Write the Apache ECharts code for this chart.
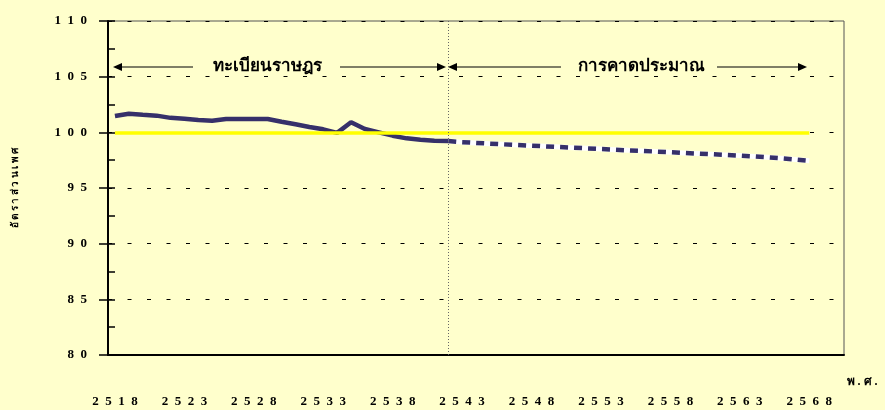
<!DOCTYPE html>
<html>
<head>
<meta charset="utf-8">
<script src="https://cdn.jsdelivr.net/npm/echarts@6/dist/echarts.min.js"></script>
<style>
  html, body { margin: 0; padding: 0; background: #FFFFCC; }
  #main { width: 885px; height: 410px; }
</style>
</head>
<body>
<div id="main"></div>
<script>
// ปี พ.ศ. (category axis)
var years = ['2518','2519','2520','2521','2522','2523','2524','2525','2526','2527',
             '2528','2529','2530','2531','2532','2533','2534','2535','2536','2537',
             '2538','2539','2540','2541','2542','2543','2544','2545','2546','2547',
             '2548','2549','2550','2551','2552','2553','2554','2555','2556','2557',
             '2558','2559','2560','2561','2562','2563','2564','2565','2566','2567',
             '2568','2569','2570'];

// ทะเบียนราษฎร 2518-2542
var registered = [101.46, 101.67, 101.58, 101.50, 101.30, 101.22, 101.10, 101.04, 101.20, 101.20,
                  101.20, 101.20, 100.95, 100.72, 100.48, 100.27, 99.95, 100.90, 100.30, 100.00,
                  99.70, 99.46, 99.34, 99.25, 99.22];

// การคาดประมาณ 2542-2568
var projected = [99.22, 99.12, 99.05, 98.98, 98.92, 98.86, 98.80, 98.74, 98.68, 98.62,
                 98.56, 98.50, 98.44, 98.38, 98.33, 98.27, 98.21, 98.15, 98.09, 98.03,
                 97.97, 97.91, 97.84, 97.76, 97.67, 97.56, 97.44];

var refValue = 100;
var yTicks = { min: 80, max: 110, step: 5 };

function pad(values, startYear) {
    var out = [];
    var start = years.indexOf(startYear);
    for (var i = 0; i < years.length; i++) {
        var k = i - start;
        out.push(k >= 0 && k < values.length ? values[k] : null);
    }
    return out;
}

function spaced(s) {
    return String(s).split('').join('  ');
}

function arrow(x1, x2, y) {
    var dir = x2 > x1 ? 1 : -1;
    return [{
        type: 'line',
        shape: { x1: x1, y1: y, x2: x2 - dir * 8, y2: y },
        style: { stroke: '#000', lineWidth: 1.2 }
    }, {
        type: 'polygon',
        shape: { points: [[x2, y], [x2 - dir * 9, y - 4], [x2 - dir * 9, y + 4]] },
        style: { fill: '#000' }
    }];
}

var chart = echarts.init(document.getElementById('main'));

var labelFont = {
    color: '#000',
    fontFamily: '"Liberation Serif", "DejaVu Serif", serif',
    fontWeight: 'bold',
    fontSize: 13
};

var option = {
    backgroundColor: '#FFFFCC',
    animation: false,
    grid: {
        left: 108, right: 41, top: 21, bottom: 55,
        show: true,
        borderColor: '#555',
        borderWidth: 1,
        backgroundColor: 'transparent'
    },
    xAxis: {
        type: 'category',
        data: years,
        boundaryGap: true,
        axisLine: { lineStyle: { color: '#000', width: 2 } },
        axisTick: { interval: 4, length: 9, lineStyle: { color: '#000', width: 1.5 } },
        axisLabel: Object.assign({
            interval: 4,
            margin: 40,
            formatter: function (v) { return spaced(v); }
        }, labelFont),
        splitLine: { show: false }
    },
    yAxis: [{
        type: 'value',
        min: yTicks.min,
        max: yTicks.max,
        interval: yTicks.step,
        axisLine: { show: true, lineStyle: { color: '#000', width: 2 } },
        axisTick: { show: true, length: 9, lineStyle: { color: '#000', width: 1.5 } },
        axisLabel: Object.assign({
            margin: 21,
            padding: [0, 0, 7, 0],
            formatter: function (v) { return spaced(v); }
        }, labelFont),
        splitLine: { lineStyle: { color: '#000', width: 1, type: [4, 15.5] } }
    }, {
        type: 'value',
        position: 'left',
        min: yTicks.min,
        max: yTicks.max,
        interval: yTicks.step / 2,
        axisLine: { show: false },
        axisTick: { show: true, inside: true, length: 7, lineStyle: { color: '#000', width: 1.5 } },
        axisLabel: { show: false },
        splitLine: { show: false }
    }],
    series: [{
        name: 'อ้างอิง',
        type: 'line',
        data: [],
        z: 1,
        silent: true,
        markLine: {
            symbol: 'none',
            silent: true,
            label: { show: false },
            lineStyle: { color: '#FFFF00', width: 3.5, type: 'solid' },
            data: [[{ coord: [years[0], refValue] }, { coord: ['2568', refValue] }]]
        }
    }, {
        name: 'ทะเบียนราษฎร',
        type: 'line',
        data: pad(registered, '2518'),
        z: 3,
        symbol: 'none',
        lineStyle: { color: '#36306A', width: 4.5 }
    }, {
        name: 'การคาดประมาณ (พื้น)',
        type: 'line',
        data: pad(projected, '2542'),
        z: 3,
        symbol: 'none',
        lineStyle: { color: '#FFFFFF', width: 5 },
        markLine: {
            symbol: 'none',
            silent: true,
            label: { show: false },
            lineStyle: { color: '#666', width: 1, type: [1, 2] },
            data: [{ xAxis: '2542' }]
        }
    }, {
        name: 'การคาดประมาณ',
        type: 'line',
        data: pad(projected, '2542'),
        z: 4,
        symbol: 'none',
        lineStyle: { color: '#36306A', width: 4.5, type: [8, 6] }
    }],
    graphic: [].concat(
        arrow(193, 113, 67),
        arrow(340, 446, 67),
        arrow(561, 448, 67),
        arrow(717, 807, 67),
        [{
            type: 'text', x: 267, y: 67,
            style: {
                text: 'ทะเบียนราษฎร', fill: '#000',
                font: 'bold 17px "Liberation Serif", "DejaVu Serif", serif',
                align: 'center', verticalAlign: 'middle'
            }
        }, {
            type: 'text', x: 641, y: 67,
            style: {
                text: 'การคาดประมาณ', fill: '#000',
                font: 'bold 17px "Liberation Serif", "DejaVu Serif", serif',
                align: 'center', verticalAlign: 'middle'
            }
        }, {
            type: 'text', x: 15, y: 188, rotation: Math.PI / 2,
            style: {
                text: 'อั ต ร า ส่ ว น เ พ ศ', fill: '#000',
                font: 'bold 10px "Liberation Serif", "DejaVu Serif", serif',
                align: 'center', verticalAlign: 'middle'
            }
        }, {
            type: 'text', x: 862, y: 382,
            style: {
                text: 'พ . ศ .', fill: '#000',
                font: 'bold 12px "Liberation Serif", "DejaVu Serif", serif',
                align: 'center', verticalAlign: 'middle'
            }
        }]
    )
};

chart.setOption(option);
</script>
</body>
</html>
